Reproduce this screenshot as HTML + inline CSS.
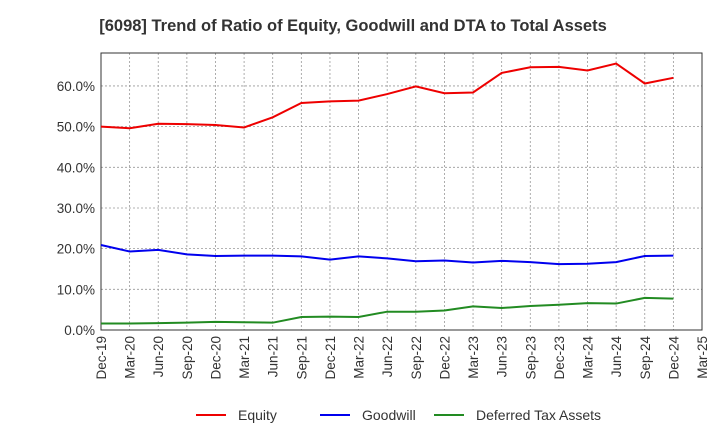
<!DOCTYPE html>
<html><head><meta charset="utf-8"><style>
body{margin:0;background:#fff;font-family:"Liberation Sans",sans-serif}
svg text{font-family:"Liberation Sans",sans-serif;fill:#333}
</style></head><body>
<svg id="c" width="720" height="440"></svg>
<script>
const categories=["Dec-19","Mar-20","Jun-20","Sep-20","Dec-20","Mar-21","Jun-21","Sep-21","Dec-21","Mar-22","Jun-22","Sep-22","Dec-22","Mar-23","Jun-23","Sep-23","Dec-23","Mar-24","Jun-24","Sep-24","Dec-24","Mar-25"];
const equity=[50.0,49.6,50.7,50.6,50.4,49.8,52.3,55.8,56.2,56.4,58.0,59.9,58.2,58.4,63.2,64.6,64.7,63.8,65.5,60.6,62.0];
const goodwill=[20.9,19.3,19.7,18.6,18.2,18.3,18.3,18.1,17.3,18.1,17.6,16.9,17.1,16.6,17.0,16.7,16.2,16.3,16.7,18.2,18.3];
const dta=[1.6,1.6,1.7,1.8,2.0,1.9,1.8,3.2,3.3,3.2,4.5,4.5,4.8,5.8,5.4,5.9,6.2,6.6,6.5,7.9,7.7];
const yTicks=[0,10,20,30,40,50,60];
const NS="http://www.w3.org/2000/svg";
const svg=document.getElementById('c');
const L=101,R=702,T=53,B=330,YMAX=68.1;
const x=i=>L+i*(R-L)/(categories.length-1);
const y=v=>B-v/YMAX*(B-T);
function mk(t,a){const e=document.createElementNS(NS,t);for(const k in a)e.setAttribute(k,a[k]);svg.appendChild(e);return e;}
let t=mk('text',{x:353,y:31,'text-anchor':'middle','font-size':16.5,'font-weight':'bold'});t.textContent="[6098]  Trend of Ratio of Equity, Goodwill and DTA to Total Assets";


yTicks.forEach(v=>{
 const g=mk('line',{x1:L,x2:R,y1:y(v),y2:y(v),stroke:'#999','stroke-dasharray':'2,2','stroke-width':0.8});
 
 
 const l=mk('text',{x:L-6,y:y(v)+5,'text-anchor':'end','font-size':13.5});l.textContent=v.toFixed(1)+'%';
 
 
});
categories.forEach((c,i)=>{
 if(i>0&&i<categories.length-1){const g=mk('line',{x1:x(i),x2:x(i),y1:T,y2:B,stroke:'#999','stroke-dasharray':'2,2','stroke-width':0.8});
 
 }
 const l=mk('text',{transform:`translate(${x(i)+5},${B+6}) rotate(-90)`,'text-anchor':'end','font-size':13.5});l.textContent=c;
 
 
});
const fr=mk('rect',{x:L,y:T,width:R-L,height:B-T,fill:'none',stroke:'#333','stroke-width':1});


[[equity,'#e00','equity-line'],[goodwill,'#00e','goodwill-line'],[dta,'#228b22','dta-line']].forEach(([d,c,n])=>{
 const p=mk('polyline',{points:d.map((v,i)=>x(i)+','+y(v)).join(' '),fill:'none',stroke:c,'stroke-width':2});
 
 
});
[['Equity','#e00',196],['Goodwill','#00e',320],['Deferred Tax Assets','#228b22',434]].forEach(([n,c,lx])=>{
 const ln=mk('line',{x1:lx,x2:lx+30,y1:415,y2:415,stroke:c,'stroke-width':2});
 
 
 const tx=mk('text',{x:lx+42,y:420,'font-size':14});tx.textContent=n;
 
 
});
</script></body></html>
